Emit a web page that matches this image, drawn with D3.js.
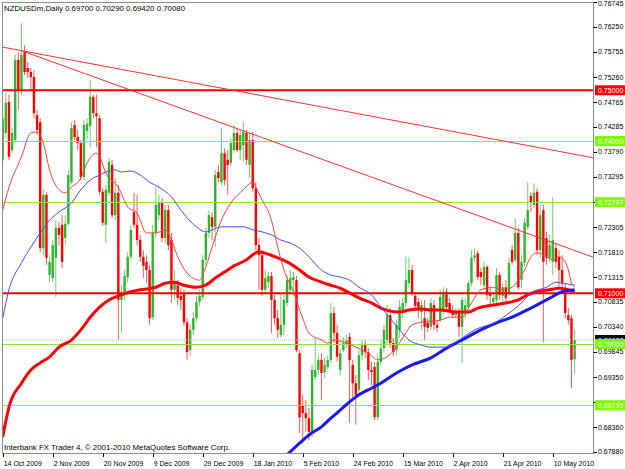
<!DOCTYPE html>
<html>
<head>
<meta charset="utf-8">
<script src="https://cdn.jsdelivr.net/npm/d3@7"></script>
<style>
  body { margin: 0; background: #fff; }
  svg { display: block; font-family: "Liberation Sans", Arial, sans-serif; }
</style>
</head>
<body>
<div id="chart"></div>
<script>
'use strict';

// NZDUSDm daily bars (bar 0 = 14 Oct 2009)
const opens = [
  0.7363, 0.7416, 0.7477, 0.7382, 0.7402, 0.7560, 0.7501, 0.7575, 0.7544, 0.7536,
  0.7526, 0.7451, 0.7437, 0.7189, 0.7294, 0.7136, 0.7130, 0.7170, 0.7229, 0.7235,
  0.7209, 0.7237, 0.7319, 0.7432, 0.7408, 0.7396, 0.7329, 0.7420, 0.7430, 0.7487,
  0.7455, 0.7445, 0.7300, 0.7235, 0.7298, 0.7353, 0.7254, 0.7298, 0.7087, 0.7101,
  0.7132, 0.7172, 0.7260, 0.7235, 0.7205, 0.7172, 0.7162, 0.7146, 0.7053, 0.7219,
  0.7254, 0.7278, 0.7209, 0.7264, 0.7205, 0.7107, 0.7116, 0.7095, 0.7101, 0.7043,
  0.6988, 0.7028, 0.7051, 0.7083, 0.7093, 0.7166, 0.7219, 0.7250, 0.7231, 0.7339,
  0.7319, 0.7376, 0.7363, 0.7357, 0.7382, 0.7416, 0.7382, 0.7392, 0.7416, 0.7353,
  0.7402, 0.7307, 0.7195, 0.7175, 0.7107, 0.7122, 0.7134, 0.7087, 0.7051, 0.7018,
  0.7038, 0.7081, 0.7107, 0.7126, 0.7126, 0.6982, 0.6880, 0.6864, 0.6854, 0.6827,
  0.6935, 0.6949, 0.6969, 0.6945, 0.6955, 0.6969, 0.7061, 0.7022, 0.6949, 0.6988,
  0.6998, 0.7014, 0.6959, 0.6923, 0.6910, 0.6978, 0.6998, 0.6984, 0.6949, 0.6955,
  0.6856, 0.6965, 0.6992, 0.7008, 0.7057, 0.7002, 0.6988, 0.7028, 0.7067, 0.7081,
  0.7120, 0.7146, 0.7095, 0.7083, 0.7063, 0.7051, 0.7042, 0.7034, 0.7077, 0.7038,
  0.7047, 0.7067, 0.7103, 0.7081, 0.7067, 0.7057, 0.7061, 0.7034, 0.7063, 0.7073,
  0.7120, 0.7170, 0.7179, 0.7142, 0.7116, 0.7152, 0.7101, 0.7083, 0.7087, 0.7136,
  0.7095, 0.7112, 0.7101, 0.7185, 0.7166, 0.7219, 0.7126, 0.7160, 0.7231, 0.7292,
  0.7274, 0.7300, 0.7185, 0.7264, 0.7209, 0.7170, 0.7162, 0.7189, 0.7172, 0.7146,
  0.7107, 0.7057, 0.7051, 0.6970
];
const highs = [
  0.7471, 0.7495, 0.7491, 0.7426, 0.7570, 0.7575, 0.7632, 0.7589, 0.7556, 0.7544,
  0.7540, 0.7461, 0.7445, 0.7304, 0.7300, 0.7175, 0.7205, 0.7244, 0.7240, 0.7254,
  0.7254, 0.7343, 0.7437, 0.7441, 0.7422, 0.7402, 0.7441, 0.7445, 0.7520, 0.7491,
  0.7491, 0.7451, 0.7307, 0.7313, 0.7367, 0.7363, 0.7327, 0.7313, 0.7116, 0.7146,
  0.7181, 0.7235, 0.7298, 0.7294, 0.7215, 0.7185, 0.7175, 0.7156, 0.7235, 0.7309,
  0.7294, 0.7288, 0.7274, 0.7274, 0.7219, 0.7146, 0.7126, 0.7110, 0.7107, 0.7051,
  0.7038, 0.7063, 0.7095, 0.7107, 0.7175, 0.7229, 0.7264, 0.7260, 0.7343, 0.7353,
  0.7426, 0.7386, 0.7382, 0.7406, 0.7432, 0.7426, 0.7422, 0.7437, 0.7422, 0.7416,
  0.7418, 0.7319, 0.7209, 0.7185, 0.7146, 0.7142, 0.7142, 0.7097, 0.7067, 0.7101,
  0.7097, 0.7136, 0.7146, 0.7142, 0.7134, 0.6988, 0.6900, 0.6890, 0.6874, 0.6959,
  0.7014, 0.6978, 0.6982, 0.6973, 0.6978, 0.7081, 0.7073, 0.7038, 0.6992, 0.7014,
  0.7018, 0.7022, 0.6969, 0.6939, 0.6988, 0.7008, 0.7008, 0.6992, 0.6965, 0.6965,
  0.6978, 0.7008, 0.7038, 0.7077, 0.7071, 0.7012, 0.7047, 0.7087, 0.7091, 0.7172,
  0.7172, 0.7156, 0.7103, 0.7091, 0.7087, 0.7087, 0.7051, 0.7091, 0.7087, 0.7047,
  0.7107, 0.7112, 0.7110, 0.7091, 0.7077, 0.7071, 0.7071, 0.7093, 0.7091, 0.7126,
  0.7185, 0.7189, 0.7185, 0.7150, 0.7162, 0.7156, 0.7110, 0.7103, 0.7150, 0.7142,
  0.7120, 0.7126, 0.7170, 0.7195, 0.7248, 0.7229, 0.7175, 0.7248, 0.7319, 0.7300,
  0.7317, 0.7307, 0.7274, 0.7274, 0.7221, 0.7215, 0.7290, 0.7199, 0.7185, 0.7175,
  0.7120, 0.7071, 0.7057, 0.7029
];
const lows = [
  0.7353, 0.7406, 0.7363, 0.7376, 0.7398, 0.7461, 0.7491, 0.7530, 0.7524, 0.7501,
  0.7445, 0.7412, 0.7181, 0.7175, 0.7156, 0.7122, 0.7122, 0.7093, 0.7195, 0.7150,
  0.7195, 0.7233, 0.7315, 0.7402, 0.7382, 0.7323, 0.7323, 0.7402, 0.7388, 0.7445,
  0.7388, 0.7294, 0.7233, 0.7199, 0.7292, 0.7248, 0.7244, 0.7008, 0.7022, 0.7087,
  0.7122, 0.7166, 0.7229, 0.7195, 0.7162, 0.7130, 0.7122, 0.7038, 0.7047, 0.7209,
  0.7244, 0.7201, 0.7199, 0.7185, 0.7081, 0.7087, 0.7077, 0.7067, 0.7036, 0.6969,
  0.6976, 0.7018, 0.7043, 0.7075, 0.7087, 0.7156, 0.7209, 0.7205, 0.7191, 0.7319,
  0.7313, 0.7313, 0.7294, 0.7351, 0.7376, 0.7378, 0.7363, 0.7359, 0.7353, 0.7327,
  0.7300, 0.7185, 0.7107, 0.7095, 0.7101, 0.7110, 0.7022, 0.7038, 0.7012, 0.7012,
  0.7018, 0.7075, 0.7097, 0.7095, 0.6984, 0.6825, 0.6805, 0.6827, 0.6811, 0.6817,
  0.6929, 0.6939, 0.6890, 0.6933, 0.6949, 0.6963, 0.7002, 0.6965, 0.6939, 0.6984,
  0.6992, 0.6845, 0.6890, 0.6841, 0.6900, 0.6969, 0.6973, 0.6929, 0.6919, 0.6850,
  0.6850, 0.6959, 0.6984, 0.6998, 0.6992, 0.6976, 0.6978, 0.7012, 0.7051, 0.7071,
  0.7110, 0.7095, 0.7067, 0.7051, 0.7028, 0.7008, 0.7024, 0.7028, 0.7028, 0.7024,
  0.7043, 0.7057, 0.7067, 0.7061, 0.7051, 0.7051, 0.7014, 0.6963, 0.7051, 0.7067,
  0.7114, 0.7162, 0.7126, 0.7116, 0.7107, 0.7087, 0.7077, 0.7075, 0.7077, 0.7087,
  0.7083, 0.7083, 0.7095, 0.7156, 0.7162, 0.7107, 0.7110, 0.7154, 0.7225, 0.7260,
  0.7268, 0.7175, 0.7170, 0.7004, 0.7156, 0.7162, 0.7136, 0.7150, 0.7107, 0.7110,
  0.7051, 0.7038, 0.6913, 0.6942
];
const closes = [
  0.7445, 0.7475, 0.7369, 0.7416, 0.7560, 0.7501, 0.7570, 0.7536, 0.7536, 0.7526,
  0.7455, 0.7422, 0.7189, 0.7294, 0.7170, 0.7162, 0.7195, 0.7229, 0.7215, 0.7162,
  0.7237, 0.7333, 0.7426, 0.7408, 0.7396, 0.7329, 0.7432, 0.7434, 0.7487, 0.7455,
  0.7449, 0.7300, 0.7239, 0.7304, 0.7359, 0.7254, 0.7298, 0.7087, 0.7101, 0.7134,
  0.7172, 0.7225, 0.7235, 0.7205, 0.7172, 0.7154, 0.7146, 0.7051, 0.7219, 0.7274,
  0.7278, 0.7209, 0.7264, 0.7195, 0.7107, 0.7120, 0.7091, 0.7087, 0.7043, 0.6984,
  0.7028, 0.7051, 0.7083, 0.7095, 0.7166, 0.7219, 0.7254, 0.7231, 0.7333, 0.7327,
  0.7376, 0.7323, 0.7353, 0.7396, 0.7416, 0.7382, 0.7412, 0.7418, 0.7363, 0.7402,
  0.7307, 0.7195, 0.7175, 0.7107, 0.7130, 0.7134, 0.7087, 0.7051, 0.7028, 0.7038,
  0.7087, 0.7126, 0.7130, 0.7132, 0.6988, 0.6856, 0.6864, 0.6854, 0.6827, 0.6949,
  0.6949, 0.6969, 0.6943, 0.6959, 0.6969, 0.7061, 0.7022, 0.6975, 0.6982, 0.7002,
  0.7008, 0.6969, 0.6923, 0.6900, 0.6978, 0.6998, 0.6984, 0.6949, 0.6945, 0.6856,
  0.6965, 0.6992, 0.7028, 0.7057, 0.7002, 0.6984, 0.7038, 0.7073, 0.7081, 0.7126,
  0.7146, 0.7101, 0.7075, 0.7067, 0.7077, 0.7034, 0.7032, 0.7081, 0.7038, 0.7032,
  0.7093, 0.7103, 0.7073, 0.7067, 0.7057, 0.7063, 0.7034, 0.7087, 0.7077, 0.7120,
  0.7170, 0.7175, 0.7132, 0.7132, 0.7152, 0.7097, 0.7095, 0.7091, 0.7136, 0.7097,
  0.7112, 0.7091, 0.7160, 0.7162, 0.7219, 0.7112, 0.7162, 0.7239, 0.7264, 0.7280,
  0.7298, 0.7185, 0.7254, 0.7162, 0.7170, 0.7195, 0.7205, 0.7162, 0.7146, 0.7120,
  0.7061, 0.7047, 0.6969, 0.7008
];
const lastOHLC = [0.69700, 0.70290, 0.69420, 0.70080];

// moving averages, [bar, price] read at points along each curve
const maFast = [[0,0.7264],[2,0.7309],[6,0.7369],[9,0.7416],[11,0.7418],[13,0.7396],[15,0.7343],[18,0.7304],[20,0.7298],[22,0.7309],[25,0.7327],[27,0.7357],[30,0.7376],[31,0.7369],[33,0.7337],[37,0.7309],[40,0.7270],[43,0.7258],[46,0.7219],[49,0.7219],[52,0.7225],[54,0.7205],[56,0.7172],[59,0.7140],[63,0.7126],[65,0.7152],[67,0.7191],[70,0.7244],[73,0.7278],[77,0.7304],[80,0.7319],[81,0.7309],[83,0.7284],[86,0.7244],[88,0.7191],[90,0.7146],[93,0.7103],[96,0.7051],[98,0.7022],[102,0.7008],[104,0.7002],[106,0.7008],[110,0.7002],[113,0.6994],[117,0.6982],[120,0.6969],[123,0.6975],[126,0.6994],[129,0.7022],[131,0.7038],[135,0.7044],[140,0.7047],[143,0.7053],[147,0.7053],[150,0.7081],[153,0.7107],[157,0.7112],[160,0.7107],[163,0.7112],[165,0.7126],[167,0.7146],[169,0.7172],[171,0.7180],[174,0.7172],[176,0.7166],[178,0.7172],[180,0.7162],[181,0.7146],[182,0.7120],[183,0.7112]];
const maMid = [[0,0.7051],[2,0.7107],[6,0.7160],[9,0.7191],[12,0.7219],[15,0.7244],[18,0.7260],[22,0.7278],[25,0.7304],[28,0.7323],[31,0.7333],[33,0.7339],[36,0.7343],[38,0.7339],[41,0.7341],[44,0.7333],[47,0.7319],[50,0.7309],[54,0.7290],[57,0.7264],[62,0.7231],[65,0.7221],[67,0.7225],[70,0.7231],[73,0.7231],[77,0.7231],[80,0.7225],[83,0.7221],[86,0.7215],[89,0.7205],[92,0.7199],[95,0.7189],[98,0.7172],[102,0.7146],[105,0.7136],[108,0.7132],[111,0.7126],[114,0.7112],[118,0.7097],[121,0.7073],[124,0.7051],[127,0.7028],[130,0.7008],[134,0.6998],[137,0.6994],[140,0.6994],[142,0.6994],[145,0.7004],[151,0.7028],[158,0.7044],[162,0.7061],[166,0.7081],[169,0.7101],[174,0.7112],[177,0.7122],[179,0.7120],[183,0.7116]];
const maSlow = [[0,0.6817],[2,0.6876],[6,0.6923],[9,0.6949],[12,0.6963],[15,0.6975],[18,0.6994],[22,0.7008],[25,0.7028],[28,0.7053],[31,0.7073],[34,0.7087],[38,0.7097],[41,0.7103],[44,0.7107],[47,0.7109],[49,0.7112],[52,0.7120],[55,0.7122],[58,0.7116],[62,0.7112],[65,0.7116],[68,0.7130],[71,0.7142],[74,0.7154],[78,0.7166],[80,0.7176],[82,0.7182],[85,0.7177],[88,0.7170],[91,0.7162],[95,0.7146],[98,0.7132],[102,0.7122],[105,0.7116],[108,0.7110],[111,0.7101],[114,0.7091],[118,0.7081],[121,0.7071],[124,0.7065],[127,0.7063],[130,0.7067],[134,0.7069],[137,0.7067],[140,0.7067],[145,0.7063],[149,0.7063],[152,0.7071],[157,0.7077],[161,0.7081],[165,0.7087],[168,0.7097],[171,0.7103],[175,0.7107],[178,0.7110],[181,0.7107],[183,0.7103]];
const maLong = [[90,0.6776],[95,0.6805],[98,0.6821],[102,0.6837],[105,0.6854],[108,0.6870],[111,0.6886],[114,0.6900],[118,0.6913],[121,0.6923],[126,0.6943],[131,0.6959],[137,0.6973],[142,0.6992],[147,0.7008],[153,0.7028],[158,0.7042],[163,0.7053],[169,0.7071],[174,0.7087],[179,0.7103],[183,0.7107]];

// chart objects
const trendA = [[0, 0.7585], [189, 0.7367]];
const trendB = [[6, 0.7578], [140, 0.7280]];
const redLevels = [0.75000, 0.71000];
const greenLevels = [0.74000, 0.72797, 0.70000, 0.68795];
const bidPrice = 0.70080;

// axis labels (0.72800 and 0.68855 sit under the level tags, so only their ticks show)
const priceTicks = [0.76745, 0.76250, 0.75755, 0.75260, 0.74765, 0.74285, 0.73790, 0.73295, 0.72800, 0.72305,
  0.71810, 0.71315, 0.70835, 0.70340, 0.69845, 0.69350, 0.68855, 0.68360, 0.67880];
const hiddenTicks = [0.72800, 0.68855];
const dateLabels = ["14 Oct 2009", "2 Nov 2009", "20 Nov 2009", "9 Dec 2009", "29 Dec 2009", "18 Jan 2010",
  "5 Feb 2010", "24 Feb 2010", "15 Mar 2010", "2 Apr 2010", "21 Apr 2010", "10 May 2010"];
const dateBars = [0, 16, 32, 48, 64, 80, 96, 112, 128, 144, 160, 176];

const W = 625, H = 469;
const plotL = 2, plotT = 2, plotR = 593, plotB = 453;

const x = d3.scaleLinear().domain([0, opens.length - 1]).range([2.7, 574.6]);
const y = d3.scaleLinear().domain([0.67880, 0.76745]).range([451.7, 1.7]);
const fmt = d3.format('.5f');

const svg = d3.select('#chart').append('svg').attr('width', W).attr('height', H);
svg.append('rect').attr('width', W).attr('height', H).attr('fill', '#fff');

svg.append('clipPath').attr('id', 'plotclip')
  .append('rect').attr('x', plotL).attr('y', plotT).attr('width', plotR - plotL).attr('height', plotB - plotT);

const plot = svg.append('g').attr('clip-path', 'url(#plotclip)');

// candles
const bars = d3.range(opens.length).map(i => ({ i, o: opens[i], h: highs[i], l: lows[i], c: closes[i] }));
const bodyW = 2.4;

plot.append('g').selectAll('line').data(bars).join('line')
  .attr('x1', d => x(d.i)).attr('x2', d => x(d.i))
  .attr('y1', d => y(d.h)).attr('y2', d => y(d.l))
  .attr('stroke', d => d.c >= d.o ? '#6fcf6f' : '#ff5a5a')
  .attr('stroke-width', 1);

plot.append('g').selectAll('rect').data(bars).join('rect')
  .attr('x', d => x(d.i) - bodyW / 2)
  .attr('y', d => y(Math.max(d.o, d.c)))
  .attr('width', bodyW)
  .attr('height', d => Math.max(1, Math.abs(y(d.o) - y(d.c))))
  .attr('fill', d => d.c >= d.o ? '#2fb52f' : '#ff0000');

// bid line
plot.append('line')
  .attr('x1', plotL).attr('x2', plotR).attr('y1', y(bidPrice)).attr('y2', y(bidPrice))
  .attr('stroke', '#b8b8c8').attr('stroke-width', 1).attr('stroke-dasharray', '1,1');

// horizontal levels
plot.append('g').selectAll('line').data(greenLevels).join('line')
  .attr('x1', plotL).attr('x2', plotR)
  .attr('y1', d => Math.round(y(d)) + 0.5).attr('y2', d => Math.round(y(d)) + 0.5)
  .attr('stroke', '#8ee83a').attr('stroke-width', 1);

plot.append('g').selectAll('line').data(redLevels).join('line')
  .attr('x1', plotL).attr('x2', plotR)
  .attr('y1', d => y(d)).attr('y2', d => y(d))
  .attr('stroke', '#ff0000').attr('stroke-width', 2);

// trend lines, extended to the right edge
function ray(pts) {
  const slope = (pts[1][1] - pts[0][1]) / (pts[1][0] - pts[0][0]);
  const endBar = x.invert(plotR);
  return [pts[0], [endBar, pts[0][1] + slope * (endBar - pts[0][0])]];
}
plot.append('g').selectAll('line').data([ray(trendA), ray(trendB)]).join('line')
  .attr('x1', d => x(d[0][0])).attr('y1', d => y(d[0][1]))
  .attr('x2', d => x(d[1][0])).attr('y2', d => y(d[1][1]))
  .attr('stroke', '#ff3030').attr('stroke-width', 1);

// moving averages
const maLine = d3.line().x(d => x(d[0])).y(d => y(d[1])).curve(d3.curveMonotoneX);
plot.append('path').attr('d', maLine(maSlow)).attr('fill', 'none').attr('stroke', '#ff0000').attr('stroke-width', 3);
plot.append('path').attr('d', maLine(maLong)).attr('fill', 'none').attr('stroke', '#1a1aee').attr('stroke-width', 3);
plot.append('path').attr('d', maLine(maMid)).attr('fill', 'none').attr('stroke', '#4a4aff').attr('stroke-width', 1);
plot.append('path').attr('d', maLine(maFast)).attr('fill', 'none').attr('stroke', '#ff4040').attr('stroke-width', 1);

// frame
svg.append('rect')
  .attr('x', plotL + 0.5).attr('y', plotT + 0.5)
  .attr('width', plotR - plotL).attr('height', plotB - plotT)
  .attr('fill', 'none').attr('stroke', '#8c8c8c');

// price scale
const pAxis = svg.append('g');
pAxis.selectAll('line').data(priceTicks).join('line')
  .attr('x1', plotR + 0.5).attr('x2', plotR + 4)
  .attr('y1', d => Math.round(y(d)) + 0.5).attr('y2', d => Math.round(y(d)) + 0.5)
  .attr('stroke', '#000');
pAxis.selectAll('text').data(priceTicks.filter(d => !hiddenTicks.includes(d))).join('text')
  .attr('x', 598).attr('y', d => Math.max(6, y(d) + 2.5))
  .attr('font-size', 7).attr('fill', '#000')
  .text(d => fmt(d));

// level tags on the price scale
const tags = [{ v: bidPrice, fill: '#000000' }]
  .concat(redLevels.map(v => ({ v, fill: '#ff0000' })))
  .concat(greenLevels.map(v => ({ v, fill: '#7cfc00' })));
const tagG = svg.append('g').selectAll('g').data(tags).join('g')
  .attr('transform', d => `translate(595,${y(d.v)})`);
tagG.append('rect').attr('x', 0).attr('y', -5).attr('width', 30).attr('height', 10).attr('fill', d => d.fill);
tagG.append('text').attr('x', 3).attr('y', 2.5).attr('font-size', 7).attr('fill', '#fff').text(d => fmt(d.v));

// time scale
const tAxis = svg.append('g');
tAxis.selectAll('line').data(dateBars).join('line')
  .attr('x1', d => Math.round(x(d)) + 0.5).attr('x2', d => Math.round(x(d)) + 0.5)
  .attr('y1', plotB + 0.5).attr('y2', plotB + 4)
  .attr('stroke', '#000');
tAxis.selectAll('text').data(dateLabels).join('text')
  .attr('x', (d, i) => x(dateBars[i]) + 1).attr('y', 465.5)
  .attr('font-size', 7).attr('fill', '#000')
  .text(d => d);

// captions
svg.append('text').attr('x', 4).attr('y', 10.5)
  .attr('font-size', 8).attr('fill', '#000')
  .attr('textLength', 181).attr('lengthAdjust', 'spacingAndGlyphs')
  .text('NZDUSDm,Daily  ' + lastOHLC.map(fmt).join(' '));
svg.append('text').attr('x', 4).attr('y', 450)
  .attr('font-size', 7.4).attr('fill', '#000')
  .attr('textLength', 226).attr('lengthAdjust', 'spacingAndGlyphs')
  .text('Interbank FX Trader 4, \u00a9 2001-2010 MetaQuotes Software Corp.');
</script>
</body>
</html>
